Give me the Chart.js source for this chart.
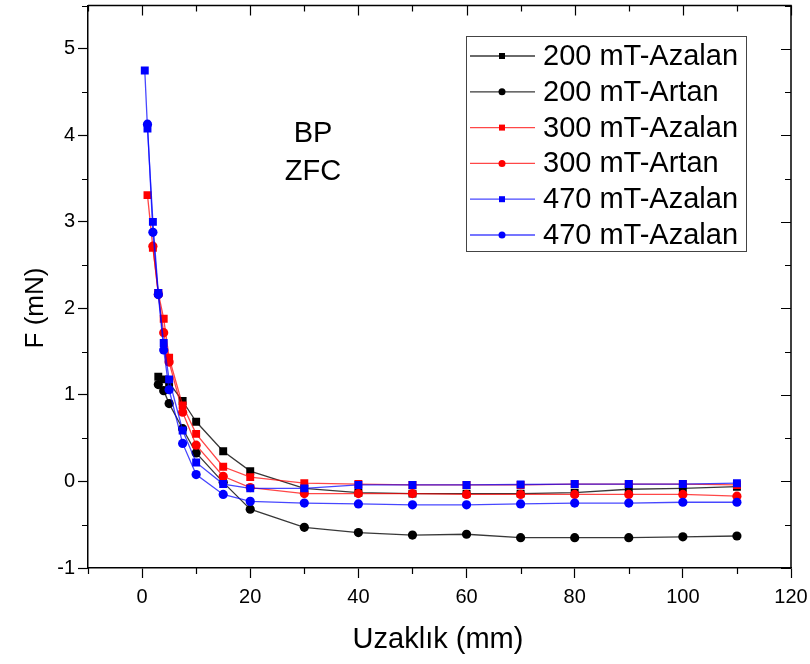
<!DOCTYPE html>
<html>
<head>
<meta charset="utf-8">
<script src="https://cdn.jsdelivr.net/npm/chart.js@4/dist/chart.umd.min.js"></script>
<style>
  html, body { margin: 0; padding: 0; background: #fff; }
  #wrap { width: 810px; height: 664px; }
</style>
</head>
<body>
<div id="wrap"><canvas id="c" width="810" height="664"></canvas></div>
<script>
// Magnetic force vs. distance, BP sample, ZFC
const seriesLabels = ['200 mT-Azalan', '200 mT-Artan', '300 mT-Azalan', '300 mT-Artan', '470 mT-Azalan', '470 mT-Azalan'];

const x200Azalan = [3, 4, 5, 7.5, 10, 15, 20, 30, 40, 50, 60, 70, 80, 90, 100, 110];
const y200Azalan = [1.21, 1.18, 1.14, 0.93, 0.69, 0.35, 0.12, -0.08, -0.13, -0.14, -0.14, -0.14, -0.13, -0.09, -0.08, -0.06];

const x200Artan = [3, 4, 5, 7.5, 10, 15, 20, 30, 40, 50, 60, 70, 80, 90, 100, 110];
const y200Artan = [1.12, 1.05, 0.90, 0.61, 0.33, -0.01, -0.32, -0.53, -0.59, -0.62, -0.61, -0.65, -0.65, -0.65, -0.64, -0.63];

const x300Azalan = [1, 2, 3, 4, 5, 7.5, 10, 15, 20, 30, 40, 50, 60, 70, 80, 90, 100, 110];
const y300Azalan = [3.31, 2.70, 2.18, 1.88, 1.43, 0.88, 0.55, 0.17, 0.05, -0.02, -0.03, -0.04, -0.04, -0.04, -0.03, -0.03, -0.03, -0.04];

const x300Artan = [2, 3, 4, 5, 7.5, 10, 15, 20, 30, 40, 50, 60, 70, 80, 90, 100, 110];
const y300Artan = [2.72, 2.16, 1.72, 1.38, 0.80, 0.42, 0.06, -0.07, -0.14, -0.14, -0.14, -0.15, -0.15, -0.15, -0.15, -0.15, -0.17];

const x470Azalan = [0.5, 1, 2, 3, 4, 5, 7.5, 10, 15, 20, 30, 40, 50, 60, 70, 80, 90, 100, 110];
const y470Azalan = [4.75, 4.08, 3.00, 2.18, 1.60, 1.18, 0.59, 0.22, -0.03, -0.08, -0.08, -0.04, -0.04, -0.04, -0.035, -0.03, -0.03, -0.03, -0.02];

const x470Azalan2 = [1, 2, 3, 4, 5, 7.5, 10, 15, 20, 30, 40, 50, 60, 70, 80, 90, 100, 110];
const y470Azalan2 = [4.13, 2.88, 2.16, 1.52, 1.06, 0.44, 0.08, -0.15, -0.23, -0.25, -0.26, -0.27, -0.27, -0.26, -0.25, -0.25, -0.24, -0.24];

const xTickValues = [0, 20, 40, 60, 80, 100, 120];
const yTickValues = [-1, 0, 1, 2, 3, 4, 5];
const annotationLines = ['BP', 'ZFC'];
const xTitle = 'Uzaklık (mm)';
const yTitle = 'F (mN)';

const FONT = '"Liberation Sans", Arial, Helvetica, sans-serif';
Chart.defaults.font.family = FONT;
Chart.defaults.color = '#000';

const styles = [
  { color: '#000000', line: 'rgba(0,0,0,0.78)', shape: 'rect', order: 5 },
  { color: '#000000', line: 'rgba(0,0,0,0.78)', shape: 'circle', order: 4 },
  { color: '#ff0000', line: 'rgba(255,0,0,0.72)', shape: 'rect', order: 3 },
  { color: '#ff0000', line: 'rgba(255,0,0,0.72)', shape: 'circle', order: 2 },
  { color: '#0000ff', line: 'rgba(0,0,255,0.72)', shape: 'rect', order: 1 },
  { color: '#0000ff', line: 'rgba(0,0,255,0.72)', shape: 'circle', order: 0 }
];

const xs = [x200Azalan, x200Artan, x300Azalan, x300Artan, x470Azalan, x470Azalan2];
const ys = [y200Azalan, y200Artan, y300Azalan, y300Artan, y470Azalan, y470Azalan2];

const datasets = seriesLabels.map((label, i) => ({
  label,
  data: xs[i].map((x, k) => ({ x, y: ys[i][k] })),
  borderColor: styles[i].line,
  borderWidth: 1.3,
  backgroundColor: styles[i].color,
  pointBackgroundColor: styles[i].color,
  pointBorderColor: styles[i].color,
  pointBorderWidth: 0,
  pointStyle: styles[i].shape,
  pointRadius: styles[i].shape === 'rect' ? 5.6 : 4.6,
  pointHoverRadius: styles[i].shape === 'rect' ? 5.6 : 4.6,
  tension: 0,
  fill: false,
  order: styles[i].order
}));

const MAJOR = 10, MINOR = 6;

// Mirrored frame, minor ticks, titles, annotation and inset legend
const decorations = {
  id: 'decorations',
  afterDraw(chart) {
    const { ctx, chartArea: a, scales: { x, y } } = chart;
    ctx.save();
    ctx.strokeStyle = '#000';
    ctx.lineWidth = 1.5;
    ctx.beginPath();
    ctx.moveTo(a.left, a.top);
    ctx.lineTo(a.right, a.top);
    ctx.lineTo(a.right, a.bottom);
    ctx.stroke();

    ctx.lineWidth = 1.2;
    ctx.beginPath();
    // x ticks: top (inward) major, minor on both edges
    xTickValues.forEach(v => {
      const p = Math.round(x.getPixelForValue(v)) + 0.5;
      ctx.moveTo(p, a.top); ctx.lineTo(p, a.top + MAJOR);
    });
    for (let i = 0; i <= xTickValues.length; i++) {
      const step = xTickValues[1] - xTickValues[0];
      const v = xTickValues[0] - step / 2 + i * step;
      if (v < x.min || v > x.max) continue;
      const p = Math.round(x.getPixelForValue(v)) + 0.5;
      ctx.moveTo(p, a.bottom); ctx.lineTo(p, a.bottom + MINOR);
      ctx.moveTo(p, a.top); ctx.lineTo(p, a.top + MINOR);
    }
    // y ticks: right (inward) major, minor on both edges
    yTickValues.forEach(v => {
      const p = Math.round(y.getPixelForValue(v)) + 0.5;
      ctx.moveTo(a.right, p); ctx.lineTo(a.right - MAJOR, p);
    });
    for (let i = 0; i <= yTickValues.length; i++) {
      const step = yTickValues[1] - yTickValues[0];
      const v = yTickValues[0] + step / 2 + i * step;
      if (v < y.min || v > y.max) continue;
      const p = Math.round(y.getPixelForValue(v)) + 0.5;
      ctx.moveTo(a.left, p); ctx.lineTo(a.left - MINOR, p);
      ctx.moveTo(a.right, p); ctx.lineTo(a.right - MINOR, p);
    }
    ctx.stroke();

    // axis titles
    ctx.fillStyle = '#000';
    ctx.textAlign = 'center';
    ctx.textBaseline = 'middle';
    ctx.font = '29px ' + FONT;
    ctx.fillText(xTitle, 438, 640);
    ctx.save();
    ctx.translate(36, 308);
    ctx.rotate(-Math.PI / 2);
    ctx.font = '26px ' + FONT;
    ctx.fillText(yTitle, 0, 0);
    ctx.restore();

    // sample annotation
    ctx.font = '29px ' + FONT;
    annotationLines.forEach((t, i) => ctx.fillText(t, 313, 134 + i * 38));

    // legend
    const box = { left: 466, top: 36, right: 746, bottom: 251 };
    ctx.strokeStyle = '#444';
    ctx.lineWidth = 1;
    ctx.strokeRect(box.left + 0.5, box.top + 0.5, box.right - box.left, box.bottom - box.top);
    ctx.textAlign = 'left';
    ctx.font = '29px ' + FONT;
    datasets.forEach((ds, i) => {
      const cy = 56 + i * 35.8;
      ctx.strokeStyle = ds.borderColor;
      ctx.lineWidth = 1.3;
      ctx.beginPath();
      ctx.moveTo(470, cy); ctx.lineTo(535, cy);
      ctx.stroke();
      ctx.fillStyle = ds.pointBackgroundColor;
      ctx.beginPath();
      if (ds.pointStyle === 'rect') ctx.rect(502 - 3, cy - 3, 6, 6);
      else ctx.arc(502, cy, 3.5, 0, Math.PI * 2);
      ctx.fill();
      ctx.fillStyle = '#000';
      ctx.fillText(ds.label, 543, cy + 1);
    });
    ctx.restore();
  }
};

new Chart(document.getElementById('c'), {
  type: 'line',
  data: { datasets },
  options: {
    responsive: false,
    animation: false,
    devicePixelRatio: 1,
    layout: { padding: { top: 4, right: 19, left: 0, bottom: 0 } },
    plugins: { legend: { display: false }, tooltip: { enabled: false } },
    scales: {
      x: {
        type: 'linear',
        min: -10,
        max: 120,
        afterBuildTicks: s => { s.ticks = xTickValues.map(v => ({ value: v })); },
        afterFit: s => { s.height = 96; s.paddingLeft = 0; s.paddingRight = 0; },
        ticks: { font: { size: 20 }, padding: 7, color: '#000', maxRotation: 0 },
        grid: { display: true, drawOnChartArea: false, drawTicks: true, tickLength: MAJOR, tickColor: '#000', tickWidth: 1.2 },
        border: { display: true, color: '#000', width: 1.5 }
      },
      y: {
        type: 'linear',
        min: -1,
        max: 5.5,
        afterBuildTicks: s => { s.ticks = yTickValues.map(v => ({ value: v })); },
        afterFit: s => { s.width = 88; s.paddingTop = 0; s.paddingBottom = 0; },
        ticks: { font: { size: 20 }, padding: 3, color: '#000' },
        grid: { display: true, drawOnChartArea: false, drawTicks: true, tickLength: MAJOR, tickColor: '#000', tickWidth: 1.2 },
        border: { display: true, color: '#000', width: 1.5 }
      }
    }
  },
  plugins: [decorations]
});
</script>
</body>
</html>
